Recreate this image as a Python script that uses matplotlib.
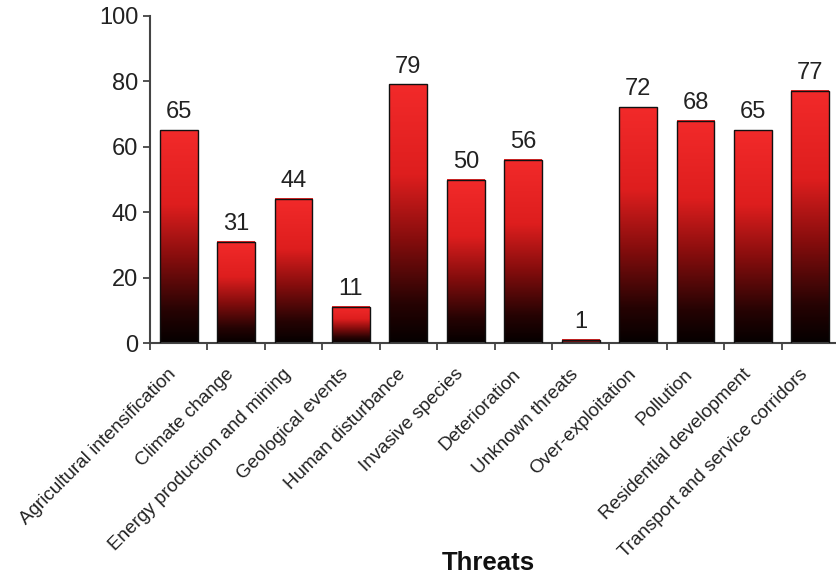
import numpy as np
import matplotlib
matplotlib.use("Agg")
import matplotlib.pyplot as plt
import matplotlib.transforms as mtransforms
from matplotlib.colors import LinearSegmentedColormap

plt.rcParams['font.family'] = ['Liberation Sans', 'DejaVu Sans']

threats = ["Agricultural intensification", "Climate change", "Energy production and mining",
           "Geological events", "Human disturbance", "Invasive species", "Deterioration",
           "Unknown threats", "Over-exploitation", "Pollution", "Residential development",
           "Transport and service corridors"]
counts = [65, 31, 44, 11, 79, 50, 56, 1, 72, 68, 65, 77]

# black at the base fading up to red
cmap = LinearSegmentedColormap.from_list(
    "blk_red", [(0.0, "#050000"), (0.15, "#260303"), (0.4, "#860d0d"),
                (0.65, "#de1e1e"), (1.0, "#f22a2a")])
grad = np.linspace(0, 1, 256).reshape(-1, 1)

fig = plt.figure(figsize=(8.37, 5.79), dpi=100)
ax = fig.add_axes([150 / 837, 235.7 / 579, 0.8232, 327.6 / 579])

x = np.arange(len(threats))
width = 0.66
bars = ax.bar(x, counts, width=width, color="none", edgecolor="#111111", linewidth=1.0, zorder=3)
for b in bars:
    x0, h = b.get_x(), b.get_height()
    ax.imshow(grad, cmap=cmap, origin="lower", aspect="auto", interpolation="bicubic",
              extent=(x0, x0 + b.get_width(), 0, h), zorder=2)

for xi, v in zip(x, counts):
    ax.annotate(str(v), (xi, v), xytext=(0, 5), textcoords="offset points",
                ha="center", va="bottom", fontsize=17, color="#222222")

ax.set_xlim(-0.5, len(threats) - 0.5)
ax.set_ylim(0, 100)
ax.set_yticks(range(0, 101, 20))
ax.set_xticks(np.arange(len(threats) + 1) - 0.5)
ax.set_xticklabels([])
ax.set_xticks(x, minor=True)
ax.set_xticklabels(threats, minor=True, rotation=45, ha="right", rotation_mode="anchor",
                   fontsize=13.6, color="#222222")
ax.tick_params(axis="x", which="minor", length=0, pad=11)
ax.tick_params(axis="both", which="major", direction="out", length=5, width=1.3,
               color="#444444", labelsize=17, labelcolor="#222222")

# nudge the slanted category names a little left and down
shift = mtransforms.ScaledTranslation(-11 / 100, -7 / 100, fig.dpi_scale_trans)
for lbl in ax.get_xticklabels(minor=True):
    lbl.set_transform(lbl.get_transform() + shift)

for side in ("top", "right"):
    ax.spines[side].set_visible(False)
for side in ("left", "bottom"):
    ax.spines[side].set_color("#444444")
    ax.spines[side].set_linewidth(1.5)

fig.text(488 / 837, 1 - 563 / 579, "Threats", ha="center", va="center",
         fontsize=18.5, fontweight="bold", color="#111111")

fig.savefig("out.png", dpi=100)
